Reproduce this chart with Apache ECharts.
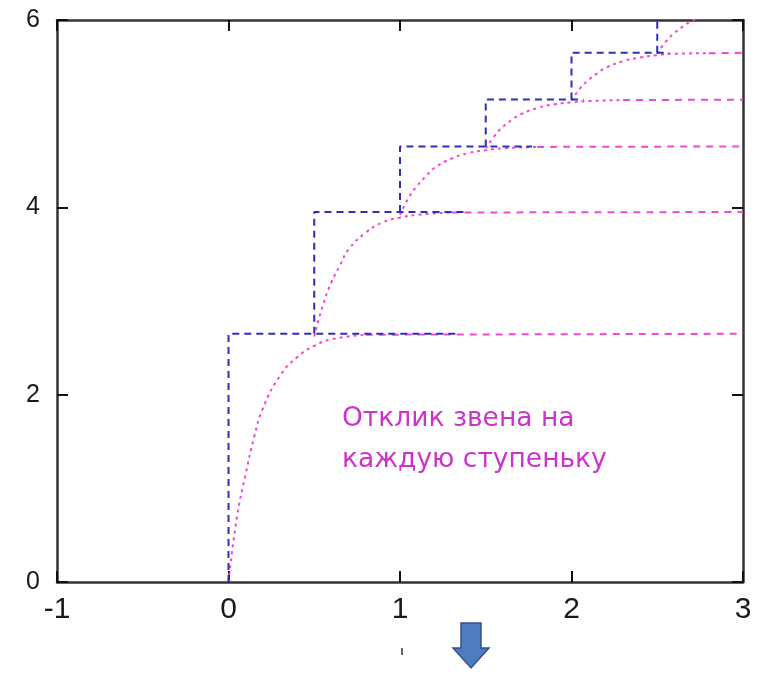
<!DOCTYPE html>
<html><head><meta charset="utf-8">
<script src="https://cdn.jsdelivr.net/npm/echarts@6/dist/echarts.min.js"></script>
<style>html,body{margin:0;padding:0;background:#fff}#c{width:765px;height:673px}</style>
</head><body><div id="c"></div>
<script>
const xTicks = [-1, 0, 1, 2, 3];
const yTicks = [0, 2, 4, 6];
const stepTimes = [0, 0.5, 1.0, 1.5, 2.0, 2.5];
const stepLevels = [2.65, 3.95, 4.65, 5.15, 5.65, 6.15];
const blueEnds = [1.33, 1.38, 1.77, 2.07, 2.57, 2.5];
const respDt = [0, 0.05, 0.1, 0.15, 0.2, 0.3, 0.4, 0.5, 0.6, 0.8];
const resp1 = [0.00, 0.70, 1.15, 1.55, 1.85, 2.20, 2.40, 2.52, 2.59, 2.64];
const resp2 = [2.62, 2.95, 3.20, 3.38, 3.55, 3.73, 3.84, 3.89, 3.92, 3.945];
const resp3 = [3.92, 4.10, 4.23, 4.33, 4.42, 4.52, 4.58, 4.61, 4.63, 4.645];
const resp4 = [4.63, 4.76, 4.86, 4.93, 4.99, 5.06, 5.10, 5.12, 5.135, 5.145];
const resp5 = [5.14, 5.27, 5.36, 5.43, 5.49, 5.56, 5.60, 5.625, 5.64, 5.645];
const resp6 = [5.64, 5.77, 5.86, 5.93, 5.99, 6.06, 6.10, 6.12, 6.14, 6.145];
const responses = [resp1, resp2, resp3, resp4, resp5, resp6];
const noteLines = ['Отклик звена на', 'каждую ступеньку'];

const BLUE = '#2e2eb8', PINK = '#f048d0', AX = '#333';
const series = [];
responses.forEach((r, k) => {
  const t0 = stepTimes[k];
  const pts = r.map((v,i)=>[t0+respDt[i], v]);
  series.push({type:'line', data: pts, smooth:true, symbol:'none', clip:true,
    lineStyle:{color:PINK, width:2, type:[3,4]}, z:2});
  const last = pts[pts.length-1];
  if (last[0] < 3) series.push({type:'line', data: [last, [3, stepLevels[k]]], symbol:'none', clip:true,
    lineStyle:{color:PINK, width:2, type:[7,6]}, z:2});
});
stepTimes.forEach((t, k) => {
  const prev = k === 0 ? 0 : stepLevels[k-1];
  const d = [[t, prev], [t, stepLevels[k]]];
  if (blueEnds[k] > t) d.push([blueEnds[k], stepLevels[k]]);
  series.push({type:'line', data: d, symbol:'none', clip:true,
    lineStyle:{color:BLUE, width:2, type:[7,5]}, z:3});
});

const axBase = () => ({axisLine:{show:true, onZero:false, lineStyle:{color:AX, width:2.5}}, splitLine:{show:false},
  axisTick:{show:true, inside:true, length:11, lineStyle:{color:'#111', width:2}}});
const chart = echarts.init(document.getElementById('c'));
chart.setOption({
  animation:false,
  grid:{left:57, right:22, top:20, bottom:91},
  xAxis:[
    Object.assign({type:'value', min:xTicks[0], max:xTicks[xTicks.length-1], interval:1, position:'bottom',
      axisLabel:{color:'#1a1a1a', fontSize:30, fontFamily:'Liberation Sans', margin:13}}, axBase()),
    Object.assign({type:'value', min:xTicks[0], max:xTicks[xTicks.length-1], interval:1, position:'top',
      axisLabel:{show:false}}, axBase())
  ],
  yAxis:[
    Object.assign({type:'value', min:yTicks[0], max:yTicks[yTicks.length-1], interval:2, position:'left',
      axisLabel:{color:'#1a1a1a', fontSize:25, fontFamily:'Liberation Sans', margin:17}}, axBase()),
    Object.assign({type:'value', min:yTicks[0], max:yTicks[yTicks.length-1], interval:2, position:'right',
      axisLabel:{show:false}}, axBase())
  ],
  series: series,
  graphic:[
    {type:'text', left:342, top:399, style:{text:noteLines.join('\n'), fill:'#cc33cc', font:'26.5px "DejaVu Sans"', lineHeight:41}},
    {type:'polygon', shape:{points:[[461,623],[481,623],[481,648],[489,648],[471,668],[453,648],[461,648]]},
      style:{fill:'#4f7bbf', stroke:'#2f528f', lineWidth:1.5}},
    {type:'line', shape:{x1:402, y1:648, x2:402, y2:655}, style:{stroke:'#333', lineWidth:1.5}}
  ]
});
</script></body></html>
